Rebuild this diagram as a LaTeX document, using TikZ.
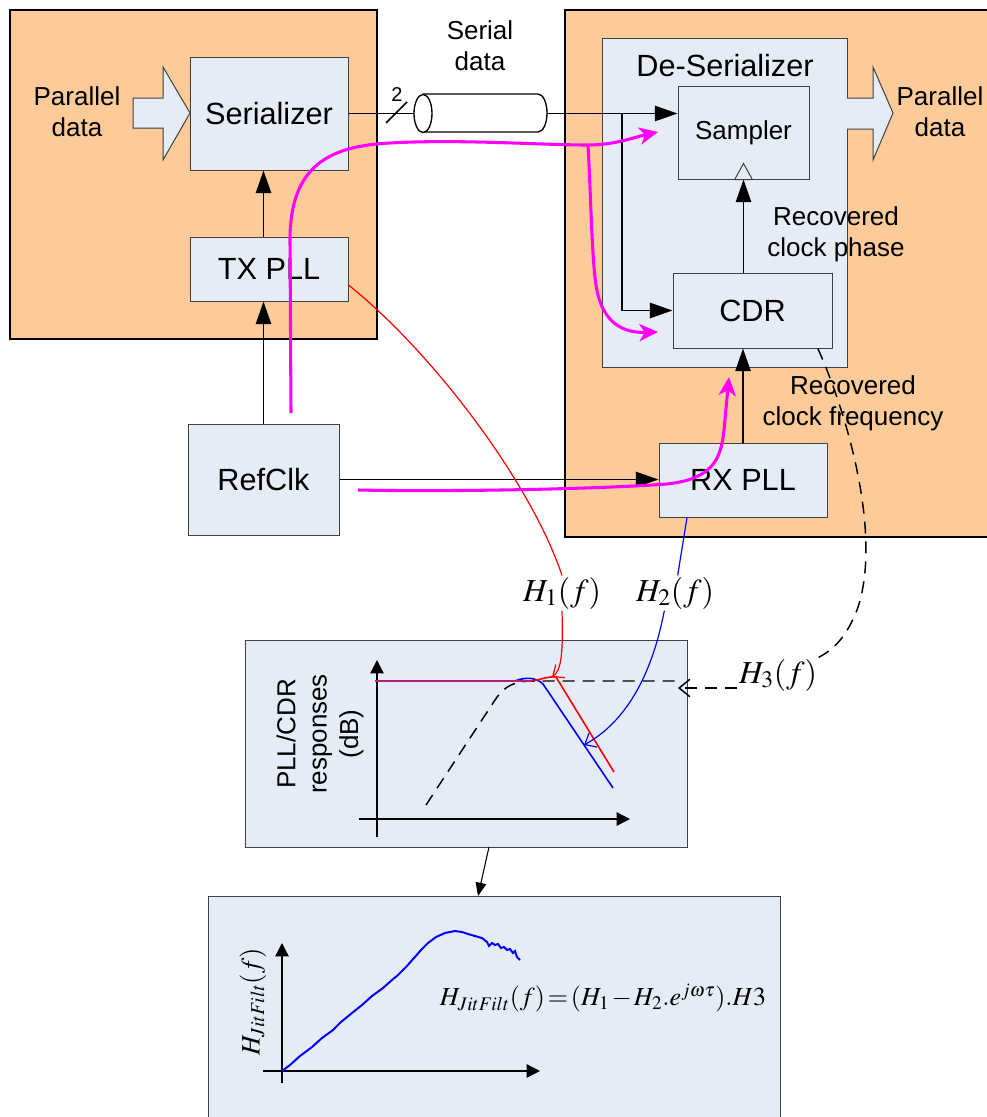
\documentclass[tikz,border=0pt]{standalone}
\usepackage{mathptmx}
\usepackage[no-math]{fontspec}
\setmainfont{Liberation Sans}
\usetikzlibrary{arrows.meta}

\definecolor{orng}{RGB}{252,203,153}
\definecolor{pale}{RGB}{230,236,246}
\definecolor{edge}{RGB}{64,64,64}
\definecolor{mag}{RGB}{255,0,255}
\definecolor{purp}{RGB}{180,30,120}

\tikzset{
  blk/.style={draw=edge, fill=pale, line width=0.75pt, inner sep=0pt,
              font=\fontsize{23}{27}\selectfont},
  big/.style={font=\fontsize{23}{27}\selectfont},
  small/.style={font=\fontsize{19.5}{23.5}\selectfont, align=center, inner sep=0pt},
  region/.style={draw=black, fill=orng, line width=1.5pt},
  panel/.style={draw=edge, fill=pale, line width=0.75pt, inner sep=0pt},
  flow/.style={line width=1.3pt, -{Triangle[length=17pt,width=11.5pt]}},
  plain/.style={line width=1.3pt},
  hot/.style={draw=mag, line width=2.3pt, -{Stealth[length=14pt,width=13pt,inset=4pt]}},
  trace/.style={line width=0.9pt, -{Straight Barb[length=7pt,width=12pt]}},
  mathlbl/.style={font=\fontsize{24}{28}\selectfont, inner sep=1pt},
  dsh/.style={dash pattern=on 9pt off 6pt, line width=1.1pt},
  axis/.style={line width=1pt, -{Triangle[length=10pt,width=10pt]}},
  blockarrow/.style={draw=edge, fill=pale, line width=0.75pt},
}

\begin{document}
\begin{tikzpicture}[x=0.75pt,y=-0.75pt]
\clip (0,0) rectangle (987,1117);
\fill[white] (0,0) rectangle (987,1117);

% transmitter and receiver regions
\draw[region] (10,10) rectangle (377,339);
\draw[region] (565,10) rectangle (990,537);
\draw[panel] (602,38) rectangle (847,367);
\node[big] (deser) at (725,66) {De-Serializer};

% building blocks
\node[blk, minimum width=118.5pt, minimum height=84.75pt] (ser) at (269,113.5) {Serializer};
\node[blk, minimum width=118.5pt, minimum height=48pt] (txpll) at (269,269) {TX PLL};
\node[blk, minimum width=113.25pt, minimum height=83.25pt] (ref) at (263.5,479.5) {RefClk};
\node[blk, minimum width=98.25pt, minimum height=69.75pt,
      font=\fontsize{19.5}{23}\selectfont] (samp) at (743.5,132.5) {Sampler};
\node[blk, minimum width=119.25pt, minimum height=56.25pt] (cdr) at (752.5,310.5) {CDR};
\node[blk, minimum width=126pt, minimum height=55.5pt] (rxpll) at (743,480) {RX PLL};

% parallel data block arrows
\draw[blockarrow] (133,98) -- (163,98) -- (163,67) -- (190,113) -- (163,160) -- (163,128) -- (133,128) -- cycle;
\draw[blockarrow] (847,98) -- (873,98) -- (873,67) -- (893,113) -- (873,160) -- (873,129) -- (847,129);
\node[small] (pin) at (77,112) {Parallel\\data};
\node[small] (pout) at (940,112) {Parallel\\data};

% serial link
\coordinate (cabL) at (414,113.5);
\coordinate (cabR) at (547,113.5);
\coordinate (tap) at (622,113.5);
\draw[plain] (ser.east) -- (cabL);
\draw[plain] (386,123) -- (407,102);
\node[font=\fontsize{15}{17}\selectfont, inner sep=0pt] (lanes) at (397,95) {2};
\draw[line width=1pt, fill=white] (423,94) -- (538,94)
  arc[start angle=-90, end angle=90, x radius=9, y radius=19] -- (423,132) -- cycle;
\draw[line width=1pt, fill=white] (423,113.5) ellipse [x radius=9, y radius=19];
\node[small] (serial) at (480,46) {Serial\\data};
\draw[flow] (cabR) -- (cabR -| samp.west);
\draw[flow] (tap) |- (cdr.west);

% clock distribution
\draw[flow] (ref.north) -- (ref.north |- txpll.south);
\draw[flow] (ref.north |- txpll.north) -- (ref.north |- ser.south);
\draw[flow] (ref.east) -- (ref.east -| rxpll.west);
\draw[flow] (rxpll.north) -- (rxpll.north |- cdr.south);
\draw[flow] (samp.south |- cdr.north) -- (samp.south);
% clock input marker of the sampler
\draw[draw=edge, fill=pale, line width=0.75pt]
  ([xshift=-6.6pt]samp.south) -- ([yshift=12pt]samp.south) -- ([xshift=6.6pt]samp.south) -- cycle;
\node[small] (rphase) at (836,234) {Recovered\\clock phase};
\node[small] (rfreq) at (853,403) {Recovered\\clock frequency};

% response panel
\node[panel, minimum width=331.5pt, minimum height=155.25pt] (resp) at (466,743.5) {};
\node[small, rotate=90] (ylab) at (320,734) {PLL/CDR\\responses\\(dB)};
\draw[axis] (377,837) -- (377,660);
\draw[axis] (359,819) -- (630,819);
\draw[dsh] (426,805) -- (495,700) .. controls (505,685) and (515,681) .. (535,681) -- (680,681);
\draw[blue, line width=1.2pt] (515,681) .. controls (525,677) and (536,677) .. (543,684) -- (613,788);
\draw[red, line width=1.2pt] (531,681) .. controls (540,680) and (548,676) .. (556,677) -- (614,772);
\draw[purp, line width=1.4pt] (375,681) -- (531,681);

% transfer function labels and pointers
\node[mathlbl] (h1) at (562,593) {$H_1(f)$};
\node[mathlbl] (h2) at (675,593) {$H_2(f)$};
\node[mathlbl] (h3) at (778,675) {$H_3(f)$};
\coordinate (h1tip) at (552,677);
\coordinate (h2tip) at (584,745);
\coordinate (h3tip) at (678,688);
\draw[red, line width=0.9pt] ([yshift=-12pt]txpll.east) .. controls (430,350) and (530,480) .. (h1.north);
\draw[trace, red] (h1.south) .. controls (563,650) and (562,670) .. (h1tip);
\draw[blue, line width=0.9pt] ([xshift=-42pt]rxpll.south) -- ([xshift=2pt]h2.north);
\draw[trace, blue] ([xshift=-8pt]h2.south) .. controls (650,685) and (620,725) .. (h2tip);
\draw[dsh] ([xshift=-11pt]cdr.south east) .. controls (850,420) and (882,540) .. (857,610)
  .. controls (847,635) and (836,648) .. (h3.north east);
\draw[dsh, -{Straight Barb[length=8pt,width=13pt]}] (h3.west |- h3tip) -- (h3tip);

% jitter filter panel
\node[panel, minimum width=429pt, minimum height=175.5pt] (jit) at (494,1013) {};
\coordinate (rsrc) at (489,847);
\coordinate (jdst) at (478,896);
\draw[line width=0.8pt, -{Triangle[length=10pt,width=8pt]}] (rsrc) -- (jdst);
\draw[axis] (282,1083) -- (282,943);
\draw[axis] (263,1071) -- (540,1071);
\draw[blue, line width=1.5pt] plot coordinates {
  (282,1071) (290,1065) (300,1056) (312,1047) (322,1038) (333,1030) (341,1022)
  (352,1013) (362,1005) (372,996) (383,988) (392,980) (398,975) (406,967)
  (414,958) (421,950) (428,943) (436,937) (445,933) (455,931) (462,932)
  (468,934) (475,936) (482,938) (487,942) (489,946) (492,943) (495,945)
  (498,944) (501,948) (504,947) (507,950) (510,949) (513,953) (515,951)
  (517,957) (520,960)};
\node[rotate=90, font=\fontsize{20}{24}\selectfont] (jlab) at (253,1002) {$H_{JitFilt}(f)$};
\node[font=\fontsize{19.5}{24}\selectfont] (eq) at (603,998)
  {\thickmuskip=2mu \medmuskip=1.5mu $H_{JitFilt}(f)=(H_1-H_2.e^{j\omega\tau}).H3$};

% signal paths
\draw[hot] (291,413) -- (290,240) .. controls (290,165) and (330,146) .. (390,143)
  .. controls (460,139) and (540,145) .. (588,145) .. controls (615,145) and (635,137) .. (658,132);
\draw[hot] (588,145) .. controls (591,200) and (592,260) .. (596,285)
  .. controls (602,325) and (625,333) .. (658,332);
\draw[hot] (358,490) .. controls (450,492) and (600,489) .. (667,484)
  .. controls (712,479) and (721,460) .. (724,430) -- (729,377);
\end{tikzpicture}
\end{document}
